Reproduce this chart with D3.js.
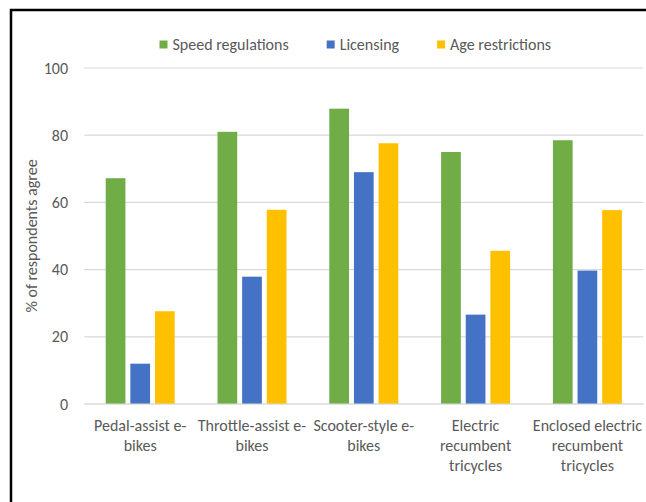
<!DOCTYPE html>
<html>
<head>
<meta charset="utf-8">
<script src="https://cdn.jsdelivr.net/npm/d3@7"></script>
<style>
  body { margin: 0; background: #fff; }
  text { font-family: Carlito, Calibri, "Liberation Sans", sans-serif; fill: #595959; }
</style>
</head>
<body>
<div id="chart"></div>
<script>
var categories = [
    ["Pedal-assist e-", "bikes"],
    ["Throttle-assist e-", "bikes"],
    ["Scooter-style e-", "bikes"],
    ["Electric", "recumbent", "tricycles"],
    ["Enclosed electric", "recumbent", "tricycles"]
];
var seriesNames = ["Speed regulations", "Licensing", "Age restrictions"];
var speedValues = [67.2, 81.0, 87.9, 75.0, 78.5];
var licensingValues = [12.0, 37.9, 69.0, 26.6, 39.7];
var ageValues = [27.6, 57.8, 77.6, 45.6, 57.7];
var yTicks = [0, 20, 40, 60, 80, 100];
var colors = ["#70AD47", "#4472C4", "#FFC000"];

var width = 646,
    height = 502;

var svg = d3.select("#chart")
    .append("svg")
    .attr("width", width)
    .attr("height", height);

// frame
svg.append("rect")
    .attr("x", 11)
    .attr("y", 10)
    .attr("width", 800)
    .attr("height", 600)
    .attr("fill", "none")
    .attr("stroke", "#000")
    .attr("stroke-width", 2.5);

var catKeys = categories.map(function (d) { return d.join(" "); });
var seriesValues = [speedValues, licensingValues, ageValues];

var x0 = d3.scaleBand()
    .domain(catKeys)
    .range([84.3, 643.3])
    .paddingInner(0.383)
    .paddingOuter(0.1915);

var x1 = d3.scaleBand()
    .domain(seriesNames)
    .range([0, x0.bandwidth()])
    .paddingInner(0.2);

var y = d3.scaleLinear()
    .domain([0, 100])
    .range([404, 68]);

// gridlines
svg.append("g")
    .selectAll("line")
    .data(yTicks)
    .enter().append("line")
    .attr("x1", 84.3)
    .attr("x2", 643.3)
    .attr("y1", function (d) { return y(d); })
    .attr("y2", function (d) { return y(d); })
    .attr("stroke", "#D9D9D9")
    .attr("stroke-width", 1.2);

// y tick labels
svg.append("g")
    .selectAll("text")
    .data(yTicks)
    .enter().append("text")
    .attr("x", 68)
    .attr("y", function (d) { return y(d); })
    .attr("dy", "0.35em")
    .attr("text-anchor", "end")
    .style("font-size", "16px")
    .text(function (d) { return d; });

// y axis title
svg.append("text")
    .attr("transform", "translate(31," + ((y(0) + y(100)) / 2) + ") rotate(-90)")
    .attr("text-anchor", "middle")
    .attr("dy", "0.35em")
    .style("font-size", "16px")
    .text("% of respondents agree");

// bars
var groups = svg.append("g")
    .selectAll("g")
    .data(catKeys)
    .enter().append("g")
    .attr("transform", function (d) { return "translate(" + x0(d) + ",0)"; });

groups.selectAll("rect")
    .data(function (d, i) {
        return seriesNames.map(function (s, j) {
            return { series: s, value: seriesValues[j][i], color: colors[j] };
        });
    })
    .enter().append("rect")
    .attr("x", function (d) { return x1(d.series); })
    .attr("y", function (d) { return y(d.value); })
    .attr("width", x1.bandwidth())
    .attr("height", function (d) { return y(0) - y(d.value); })
    .attr("fill", function (d) { return d.color; });

// baseline
svg.append("line")
    .attr("x1", 84.3)
    .attr("x2", 643.3)
    .attr("y1", y(0))
    .attr("y2", y(0))
    .attr("stroke", "#D9D9D9")
    .attr("stroke-width", 1.2);

// x labels
var xLabels = svg.append("g")
    .selectAll("text")
    .data(categories)
    .enter().append("text")
    .attr("text-anchor", "middle")
    .style("font-size", "16px")
    .attr("transform", function (d, i) {
        return "translate(" + (x0(catKeys[i]) + x0.bandwidth() / 2) + ",430.5)";
    });

xLabels.selectAll("tspan")
    .data(function (d) { return d; })
    .enter().append("tspan")
    .attr("x", 0)
    .attr("y", function (d, i) { return i * 20.3; })
    .text(function (d) { return d; });

// legend
var legend = svg.append("g");
var lx = 159.5;
seriesNames.forEach(function (name, i) {
    legend.append("rect")
        .attr("x", lx)
        .attr("y", 40.5)
        .attr("width", 8)
        .attr("height", 8)
        .attr("fill", colors[i]);
    var t = legend.append("text")
        .attr("x", lx + 13)
        .attr("y", 44.5)
        .attr("dy", "0.35em")
        .style("font-size", "16px")
        .text(name);
    lx += 13 + t.node().getComputedTextLength() + 38;
});
</script>
</body>
</html>
